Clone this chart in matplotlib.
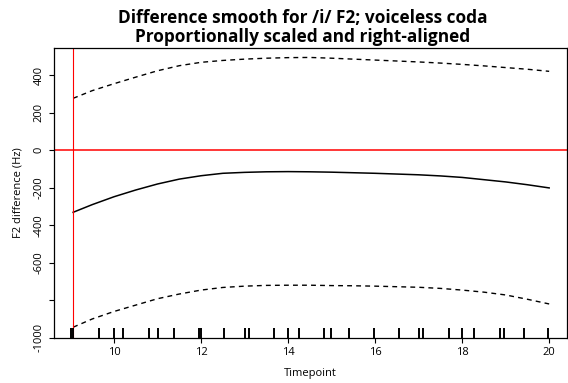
import matplotlib
matplotlib.use("Agg")
import matplotlib.pyplot as plt

plt.rcParams['font.family'] = ['Open Sans', 'DejaVu Sans']

# smooth estimate and confidence band
timepoint = [9.06, 9.5, 10, 10.5, 11, 11.5, 12, 12.5, 13, 13.5, 14, 14.5,
             15, 15.5, 16, 16.5, 17, 17.5, 18, 18.5, 19, 19.5, 20]
fit = [-331, -290, -248, -212, -180, -154, -136, -123, -118, -115, -114, -115,
       -117, -120, -123, -127, -131, -137, -145, -157, -169, -184, -201]
upper = [277, 318, 355, 390, 424, 451, 469, 479, 486, 491, 494, 495,
         491, 486, 481, 476, 471, 465, 458, 450, 441, 432, 421]
lower = [-944, -900, -860, -826, -792, -767, -746, -732, -725, -721, -720, -720,
         -722, -723, -725, -728, -731, -737, -746, -757, -772, -795, -820]

# observed timepoints (rug)
rug_x = [9.01, 9.06, 9.66, 10.0, 10.21, 10.80, 11.0, 11.38, 11.96, 12.0,
         12.53, 13.02, 13.10, 13.67, 13.99, 14.24, 14.83, 14.99, 15.41, 15.98,
         16.55, 17.0, 17.11, 17.69, 17.99, 18.28, 18.86, 18.97, 19.42, 19.98]

xticks = [10, 12, 14, 16, 18, 20]
yticks = [400, 200, 0, -200, -400, -600, -800, -1000]
ytick_labels = ['400', '200', '0', '-200', '-400', '-600', '', '-1000']

fig = plt.figure(figsize=(5.68, 3.83), dpi=100)
ax = fig.add_axes([54/568, 1-337.7/383, 513/568, 290/383])

ax.plot(timepoint, fit, color='black', lw=1.1)
ax.plot(timepoint, upper, color='black', lw=1.0, linestyle=(0, (3.5, 3)))
ax.plot(timepoint, lower, color='black', lw=1.0, linestyle=(0, (3.5, 3)))
ax.axhline(0, color='red', lw=1.1)
ax.axvline(timepoint[0], color='red', lw=0.8)
ax.vlines(rug_x, 0, 0.032, transform=ax.get_xaxis_transform(),
          color='black', lw=1.4)

ax.set_xlim(8.62, 20.41)
ax.set_ylim(-1000, 547)
ax.set_xticks(xticks)
ax.set_yticks(yticks)
ax.set_yticklabels(ytick_labels, rotation=90, va='center')
ax.tick_params(labelsize=8, length=3.6, width=0.8, pad=3)
for s in ax.spines.values():
    s.set_linewidth(0.9)

ax.set_xlabel('Timepoint', fontsize=8, va='center')
ax.xaxis.set_label_coords(0.5, -0.125)
ax.set_ylabel('F2 difference (Hz)', fontsize=8, va='center')
ax.yaxis.set_label_coords(-0.07, 0.5)

fig.text(303/568, 1-27.5/383,
         'Difference smooth for /i/ F2; voiceless coda\nProportionally scaled and right-aligned',
         ha='center', va='center', fontsize=12.4, fontweight='bold', linespacing=1.05)

fig.savefig('out.png', dpi=100)
